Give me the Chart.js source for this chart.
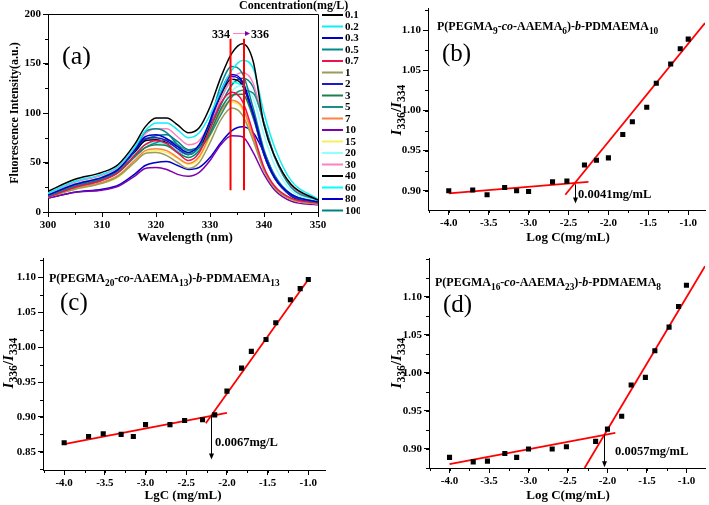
<!DOCTYPE html>
<html>
<head>
<meta charset="utf-8">
<script src="https://cdn.jsdelivr.net/npm/chart.js@4.4.1/dist/chart.umd.min.js"></script>
<style>
body { margin: 0; background: #fff; width: 709px; height: 505px; position: relative; overflow: hidden; }
canvas { position: absolute; }
</style>
</head>
<body>
<canvas id="chartA" width="360" height="250" style="left:0;top:0"></canvas>
<canvas id="chartB" width="349" height="250" style="left:360px;top:0"></canvas>
<canvas id="chartC" width="360" height="255" style="left:0;top:250px"></canvas>
<canvas id="chartD" width="349" height="255" style="left:360px;top:250px"></canvas>
<script>
// panel (a): fluorescence spectra
const wavelengths = [300, 305, 310, 313, 316, 318, 320, 322, 324, 326, 328, 330, 332, 334, 336, 338, 340, 342, 345, 350];
const concLabels = ["0.1", "0.2", "0.3", "0.5", "0.7", "1", "2", "3", "5", "7", "10", "15", "20", "30", "40", "60", "80", "100"];
const concColors = ["#000000", "#10eef5", "#0000cc", "#008b8b", "#f0104a", "#9b9b5a", "#1a1acc", "#1e8050", "#1a8f8a",
    "#ff8040", "#8000b0", "#f5f060", "#90ffff", "#ff80c0", "#000000", "#00ffff", "#0000c8", "#008080"];
const spectra = [
    [21, 33, 40, 48, 68, 86, 95, 95, 88, 80, 85, 106, 136, 160, 170, 152, 88, 56, 28, 12],
    [19, 31, 38, 46, 65, 82, 90, 90, 83, 75, 80, 98, 122, 143, 153, 145, 100, 65, 32, 13],
    [17, 28, 35, 43, 62, 76, 78, 74, 66, 60, 68, 92, 122, 139, 132, 100, 60, 35, 18, 10],
    [16, 27, 34, 42, 62, 81, 84, 80, 68, 58, 66, 92, 128, 147, 140, 105, 63, 37, 18, 10],
    [15, 25, 32, 40, 57, 68, 72, 69, 60, 52, 60, 84, 110, 121, 112, 80, 45, 26, 14, 9],
    [15, 23, 29, 36, 50, 59, 60, 57, 50, 44, 50, 70, 93, 105, 98, 72, 42, 24, 13, 8],
    [17, 27, 34, 42, 61, 74, 75, 72, 64, 58, 66, 90, 120, 137, 130, 98, 58, 34, 17, 9],
    [16, 25, 32, 40, 56, 65, 68, 67, 60, 55, 62, 80, 104, 118, 119, 95, 58, 34, 17, 9],
    [16, 26, 33, 40, 55, 65, 70, 73, 68, 62, 65, 78, 98, 116, 123, 120, 90, 55, 25, 12],
    [15, 24, 30, 37, 52, 62, 64, 62, 55, 49, 56, 78, 102, 113, 106, 76, 43, 25, 13, 8],
    [14, 20, 22, 26, 36, 44, 45, 43, 38, 36, 40, 52, 68, 77, 76, 60, 38, 22, 11, 7],
    [15, 23, 29, 35, 50, 60, 62, 60, 54, 48, 54, 76, 100, 111, 104, 74, 42, 24, 12, 8],
    [17, 28, 35, 42, 58, 68, 70, 69, 63, 58, 63, 80, 104, 122, 128, 115, 78, 47, 22, 11],
    [18, 30, 37, 45, 64, 79, 84, 84, 76, 68, 72, 90, 114, 134, 141, 130, 88, 55, 26, 12],
    [17, 27, 34, 42, 60, 72, 73, 70, 63, 58, 64, 88, 118, 134, 128, 98, 58, 34, 17, 9],
    [17, 27, 34, 41, 58, 68, 70, 68, 61, 55, 62, 85, 114, 131, 127, 98, 60, 36, 18, 10],
    [14, 20, 23, 27, 38, 47, 50, 51, 47, 43, 45, 55, 70, 82, 86, 80, 60, 36, 16, 9],
    [17, 28, 35, 43, 60, 73, 77, 78, 71, 63, 66, 84, 108, 128, 135, 126, 90, 56, 27, 12]
];
const peakLines = [333.8, 336.3];
const peakLineRange = [22, 175];

// panels (b)-(d): I336/I334 vs log C
const logC = [-4, -3.7, -3.52, -3.3, -3.15, -3, -2.7, -2.52, -2.3, -2.15, -2, -1.82, -1.7, -1.52, -1.4, -1.22, -1.1, -1];
const ratioB = [0.900, 0.901, 0.895, 0.904, 0.900, 0.899, 0.911, 0.912, 0.932, 0.938, 0.941, 0.970, 0.986, 1.004, 1.034, 1.058, 1.077, 1.089];
const ratioC = [0.863, 0.872, 0.876, 0.875, 0.872, 0.889, 0.889, 0.895, 0.896, 0.903, 0.937, 0.970, 0.994, 1.011, 1.035, 1.068, 1.084, 1.097];
const ratioD = [0.889, 0.883, 0.884, 0.894, 0.889, 0.900, 0.900, 0.903, null, 0.910, 0.926, 0.943, 0.984, 0.994, 1.029, 1.060, 1.087, 1.115];

const fitB_low = [[-4, 0.8967], [-2.25, 0.911]];
const fitB_high = [[-2.54, 0.895], [-0.79, 1.109]];
const fitC_low = [[-4, 0.861], [-2.0, 0.906]];
const fitC_high = [[-2.26, 0.891], [-1.0, 1.097]];
const fitD_low = [[-4, 0.880], [-1.9, 0.921]];
const fitD_high = [[-2.29, 0.875], [-0.765, 1.14]];

const arrowB = [[-2.42, 0.908], [-2.42, 0.884]];
const arrowC = [[-2.2, 0.903], [-2.2, 0.839]];
const arrowD = [[-2.04, 0.919], [-2.04, 0.876]];

const fam = '"Liberation Serif", "Times New Roman", serif';

// draws text made of pieces: [text, style], style may contain i (italic) and s (subscript)
function rich(ctx, segs, x, y, size, opt) {
    opt = opt || {};
    const weight = opt.weight || 'bold';
    let w = 0;
    const parts = segs.map(([t, st]) => {
        const sub = st.includes('s');
        const f = (st.includes('i') ? 'italic ' : '') + weight + ' ' + (sub ? size * 0.78 : size) + 'px ' + fam;
        ctx.font = f;
        const p = { t: t, f: f, dy: sub ? size * 0.32 : 0, x: w };
        w += ctx.measureText(t).width;
        return p;
    });
    ctx.save();
    ctx.translate(x, y);
    if (opt.rot) ctx.rotate(opt.rot);
    const x0 = opt.align === 'center' ? -w / 2 : 0;
    ctx.fillStyle = '#000';
    ctx.textBaseline = opt.baseline || 'alphabetic';
    parts.forEach(p => { ctx.font = p.f; ctx.fillText(p.t, x0 + p.x, p.dy); });
    ctx.restore();
}

function text(ctx, t, x, y, font, align, base) {
    ctx.save();
    ctx.font = font;
    ctx.fillStyle = '#000';
    ctx.textAlign = align || 'left';
    ctx.textBaseline = base || 'alphabetic';
    ctx.fillText(t, x, y);
    ctx.restore();
}

function mkAxis(min, max, step, dec, size, isX) {
    return {
        type: 'linear', min: min, max: max,
        ticks: {
            stepSize: step, includeBounds: false, autoSkip: false, maxRotation: 0,
            color: '#000', padding: 2, font: { family: fam, size: 11, weight: 'bold' },
            callback: v => v.toFixed(dec)
        },
        grid: { drawOnChartArea: false, tickLength: 5, color: '#000', lineWidth: 1 },
        border: { color: '#000', width: 1 },
        afterFit: isX ? s => { s.height = size; } : s => { s.width = size; }
    };
}

const minorTicks = {
    id: 'minorTicks',
    afterDraw(chart, args, o) {
        if (!o || !o.x) return;
        const ctx = chart.ctx, a = chart.chartArea;
        ctx.save();
        ctx.strokeStyle = '#000';
        ctx.lineWidth = 1;
        ['x', 'y'].forEach(id => {
            const s = chart.scales[id], st = o[id];
            for (let v = Math.ceil(s.min / st) * st; v <= s.max + 1e-9; v += st) {
                const p = Math.round(s.getPixelForValue(v)) + 0.5;
                ctx.beginPath();
                if (id === 'x') { ctx.moveTo(p, a.bottom); ctx.lineTo(p, a.bottom + 3); }
                else { ctx.moveTo(a.left - 3, p); ctx.lineTo(a.left, p); }
                ctx.stroke();
            }
        });
        ctx.restore();
    }
};
Chart.register(minorTicks);

function drawArrow(chart, arr) {
    const ctx = chart.ctx, sx = chart.scales.x, sy = chart.scales.y;
    const x = Math.round(sx.getPixelForValue(arr[0][0])) + 0.5;
    const y1 = sy.getPixelForValue(arr[0][1]), y2 = sy.getPixelForValue(arr[1][1]);
    ctx.save();
    ctx.strokeStyle = '#000';
    ctx.fillStyle = '#000';
    ctx.lineWidth = 1;
    ctx.beginPath(); ctx.moveTo(x, y1); ctx.lineTo(x, y2 - 5); ctx.stroke();
    ctx.beginPath(); ctx.moveTo(x - 2.5, y2 - 6); ctx.lineTo(x + 2.5, y2 - 6); ctx.lineTo(x, y2); ctx.closePath(); ctx.fill();
    ctx.restore();
}

const toXY = arr => arr.map(([x, y]) => ({ x: x, y: y }));

// ---------- (a)
new Chart("chartA", {
    type: 'line',
    data: {
        datasets: [
            ...peakLines.map(w => ({
                data: [{ x: w, y: peakLineRange[0] }, { x: w, y: peakLineRange[1] }],
                borderColor: '#ff0000', borderWidth: 2, pointRadius: 0, order: 0
            })),
            ...spectra.map((s, i) => ({
                label: concLabels[i],
                data: wavelengths.map((w, k) => ({ x: w, y: s[k] })),
                borderColor: concColors[i], borderWidth: 1.5, pointRadius: 0,
                cubicInterpolationMode: 'monotone', order: 1 + i
            }))
        ]
    },
    options: {
        responsive: false, animation: false,
        layout: { padding: { top: 14, right: 42, left: 0, bottom: 0 } },
        plugins: { legend: { display: false }, tooltip: { enabled: false }, minorTicks: { x: 5, y: 25 } },
        scales: {
            x: mkAxis(300, 350, 10, 0, 38, true),
            y: mkAxis(0, 200, 50, 0, 48, false)
        }
    },
    plugins: [{
        id: 'decoA',
        afterDraw(c) {
            const ctx = c.ctx, a = c.chartArea;
            ctx.save();
            ctx.strokeStyle = '#000';
            ctx.lineWidth = 1;
            ctx.beginPath();
            ctx.moveTo(a.left, a.top + 0.5); ctx.lineTo(a.right + 0.5, a.top + 0.5); ctx.lineTo(a.right + 0.5, a.bottom);
            ctx.stroke();
            // legend
            spectra.forEach((s, i) => {
                const y = 15 + i * 11.5;
                ctx.strokeStyle = concColors[i];
                ctx.lineWidth = 2;
                ctx.beginPath(); ctx.moveTo(322, y); ctx.lineTo(343, y); ctx.stroke();
                text(ctx, concLabels[i], 345, y + 0.5, 'bold 11px ' + fam, 'left', 'middle');
            });
            // shift arrow
            ctx.strokeStyle = '#ff80c0';
            ctx.lineWidth = 1;
            ctx.beginPath(); ctx.moveTo(233, 33.5); ctx.lineTo(246, 33.5); ctx.stroke();
            ctx.fillStyle = '#8000b0';
            ctx.beginPath(); ctx.moveTo(245, 31); ctx.lineTo(250, 33.5); ctx.lineTo(245, 36); ctx.closePath(); ctx.fill();
            ctx.restore();
            text(ctx, 'Concentration(mg/L)', 239, 6, 'bold 12px ' + fam, 'left', 'middle');
            text(ctx, '334', 230, 38, 'bold 12px ' + fam, 'right');
            text(ctx, '336', 251, 38, 'bold 12px ' + fam, 'left');
            text(ctx, '(a)', 62, 64, '26px ' + fam, 'left');
            text(ctx, 'Wavelength (nm)', 185, 238, 'bold 13px ' + fam, 'center', 'middle');
            rich(ctx, [['Fluorescence Intensity(a.u.)', '']], 15, 113, 12, { rot: -Math.PI / 2, align: 'center', baseline: 'middle' });
        }
    }]
});

// ---------- (b), (c), (d)
function ratioChart(id, ratios, low, high, arrow, xr, yr, sizes, pad, deco) {
    const pts = [];
    logC.forEach((x, i) => { if (ratios[i] !== null) pts.push({ x: x, y: ratios[i] }); });
    return new Chart(id, {
        type: 'scatter',
        data: {
            datasets: [
                { data: pts, pointStyle: 'rect', pointRadius: 3.6, backgroundColor: '#000', borderColor: '#000', borderWidth: 0, order: 0 },
                { data: toXY(low), showLine: true, borderColor: '#ff0000', borderWidth: 1.8, pointRadius: 0, order: 1 },
                { data: toXY(high), showLine: true, borderColor: '#ff0000', borderWidth: 1.8, pointRadius: 0, order: 1 }
            ]
        },
        options: {
            responsive: false, animation: false,
            layout: { padding: { top: pad[0], right: pad[1], left: 0, bottom: 0 } },
            plugins: { legend: { display: false }, tooltip: { enabled: false }, minorTicks: { x: 0.25, y: yr[3] } },
            scales: {
                x: mkAxis(xr[0], xr[1], 0.5, 1, sizes[1], true),
                y: mkAxis(yr[0], yr[1], yr[2], 2, sizes[0], false)
            }
        },
        plugins: [{
            id: 'deco' + id,
            afterDraw(c) {
                drawArrow(c, arrow);
                deco(c.ctx);
            }
        }]
    });
}

const yTitle = [['I', 'i'], ['336', 's'], ['/', ''], ['I', 'i'], ['334', 's']];

ratioChart("chartB", ratioB, fitB_low, fitB_high, arrowB, [-4.26, -0.79], [0.876, 1.127, 0.05, 0.025], [68, 40], [5, 2], ctx => {
    rich(ctx, [['P(PEGMA', ''], ['9', 's'], ['-', ''], ['co', 'i'], ['-AAEMA', ''], ['6', 's'], [')-', ''], ['b', 'i'], ['-PDMAEMA', ''], ['10', 's']], 77, 30, 12);
    text(ctx, '(b)', 82, 61, '25px ' + fam, 'left');
    text(ctx, '0.0041mg/mL', 218, 198, 'bold 12.5px ' + fam, 'left');
    text(ctx, 'Log C(mg/mL)', 208, 238, 'bold 13px ' + fam, 'center', 'middle');
    rich(ctx, yTitle, 37, 110, 15, { rot: -Math.PI / 2, align: 'center', baseline: 'middle' });
});

ratioChart("chartC", ratioC, fitC_low, fitC_high, arrowC, [-4.26, -0.795], [0.824, 1.127, 0.05, 0.025], [43, 35], [8, 35], ctx => {
    rich(ctx, [['P(PEGMA', ''], ['20', 's'], ['-', ''], ['co', 'i'], ['-AAEMA', ''], ['13', 's'], [')-', ''], ['b', 'i'], ['-PDMAEMA', ''], ['13', 's']], 49, 32, 12);
    text(ctx, '(c)', 60, 60, '25px ' + fam, 'left');
    text(ctx, '0.0067mg/L', 215, 196, 'bold 12.5px ' + fam, 'left');
    text(ctx, 'LgC (mg/mL)', 183, 246, 'bold 13px ' + fam, 'center', 'middle');
    rich(ctx, yTitle, 9, 113, 15, { rot: -Math.PI / 2, align: 'center', baseline: 'middle' });
});

ratioChart("chartD", ratioD, fitD_low, fitD_high, arrowD, [-4.26, -0.765], [0.875, 1.15, 0.05, 0.025], [69, 37], [7, 2], ctx => {
    rich(ctx, [['P(PEGMA', ''], ['16', 's'], ['-', ''], ['co', 'i'], ['-AAEMA', ''], ['23', 's'], [')-', ''], ['b', 'i'], ['-PDMAEMA', ''], ['8', 's']], 75, 36, 12);
    text(ctx, '(d)', 83, 62, '25px ' + fam, 'left');
    text(ctx, '0.0057mg/mL', 255, 205, 'bold 12.5px ' + fam, 'left');
    text(ctx, 'Log C(mg/mL)', 208, 246, 'bold 13px ' + fam, 'center', 'middle');
    rich(ctx, yTitle, 37, 113, 15, { rot: -Math.PI / 2, align: 'center', baseline: 'middle' });
});
</script>
</body>
</html>
